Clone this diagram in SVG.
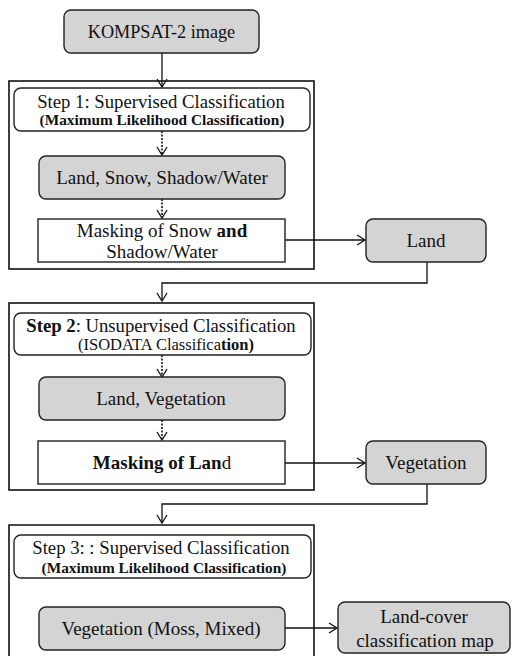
<svg xmlns="http://www.w3.org/2000/svg" width="512" height="656" viewBox="0 0 512 656">
<style>
text{fill:#111;text-anchor:middle}
.t{font-size:19px}
.h{font-size:18.7px}
.s{font-size:15.3px;font-weight:bold}
.b{font-weight:bold}
.gray{fill:#d4d4d4;stroke:#222;stroke-width:1.4}
.white{fill:#fff;stroke:#222;stroke-width:1.4}
.outer{fill:none;stroke:#111;stroke-width:1.6}
.line{fill:none;stroke:#111;stroke-width:1.3}
.dash{fill:none;stroke:#111;stroke-width:1.6;stroke-dasharray:2 1.5}
</style>
<defs>
<marker id="ah" markerUnits="userSpaceOnUse" markerWidth="12" markerHeight="14" refX="9" refY="6" orient="auto">
<path d="M1,1 L9,6 L1,11" fill="none" stroke="#111" stroke-width="1.3"/>
</marker>
</defs>
<g id="step1-frame"><rect class="outer" x="9" y="81" width="305" height="188"/></g>
<g id="step2-frame"><rect class="outer" x="9" y="303" width="305" height="187"/></g>
<g id="step3-frame"><path class="outer" d="M9,657 V525 H314 V657"/></g>
<g id="connectors">
<path class="line" d="M162,53 V87" marker-end="url(#ah)"/>
<path class="dash" d="M162,131 V155" marker-end="url(#ah)"/>
<path class="dash" d="M162,199 V218" marker-end="url(#ah)"/>
<path class="line" d="M285,240 H365" marker-end="url(#ah)"/>
<path class="line" d="M427,262 V283 H162 V301" marker-end="url(#ah)"/>
<path class="dash" d="M162,355 V377" marker-end="url(#ah)"/>
<path class="dash" d="M162,420 V440" marker-end="url(#ah)"/>
<path class="line" d="M285,463 H365" marker-end="url(#ah)"/>
<path class="line" d="M427,484 V504 H162 V523" marker-end="url(#ah)"/>
<path class="line" d="M285,628 H337" marker-end="url(#ah)"/>
</g>
<g font-family="'Liberation Serif', 'Times New Roman', Tinos, 'DejaVu Serif', serif">
<g id="kompsat"><rect class="gray" x="64" y="10" width="195" height="43" rx="7"/><text x="161.5" y="38" font-size="18.2">KOMPSAT-2 image</text></g>
<g id="step1-header"><rect class="white" x="14" y="88" width="296" height="43" rx="7"/><text class="h" x="161" y="108">Step 1: Supervised Classification</text><text class="s" x="162" y="125">(Maximum Likelihood Classification)</text></g>
<g id="classes1"><rect class="gray" x="39" y="156" width="246" height="43" rx="7"/><text class="t" x="162" y="184">Land, Snow, Shadow/Water</text></g>
<g id="mask1"><rect class="white" x="38" y="219" width="247" height="43"/><text class="t" x="162" y="237">Masking of Snow <tspan class="b">and</tspan></text><text class="t" x="162" y="258">Shadow/Water</text></g>
<g id="land"><rect class="gray" x="366" y="219" width="120" height="43" rx="7"/><text class="t" x="426" y="247">Land</text></g>
<g id="step2-header"><rect class="white" x="14" y="313" width="297" height="42" rx="7"/><text class="h" x="161" y="332"><tspan class="b">Step 2</tspan>: Unsupervised Classification</text><text x="166" y="350" font-size="16.5">(ISODATA  Classifica<tspan class="b">tion)</tspan></text></g>
<g id="classes2"><rect class="gray" x="39" y="377" width="246" height="43" rx="7"/><text class="t" x="161" y="405">Land, Vegetation</text></g>
<g id="mask2"><rect class="white" x="38" y="441" width="247" height="43"/><text class="t" x="162" y="469"><tspan class="b">Masking of Lan</tspan>d</text></g>
<g id="vegetation"><rect class="gray" x="366" y="441" width="120" height="43" rx="7"/><text class="t" x="426" y="469">Vegetation</text></g>
<g id="step3-header"><rect class="white" x="14" y="535" width="297" height="43" rx="7"/><text class="h" x="161" y="554">Step 3: : Supervised Classification</text><text class="s" x="164" y="573">(Maximum Likelihood Classification)</text></g>
<g id="classes3"><rect class="gray" x="39" y="607" width="246" height="43" rx="7"/><text class="t" x="161" y="635">Vegetation (Moss, Mixed)</text></g>
<g id="landcover"><rect class="gray" x="338" y="602" width="172" height="51" rx="7"/><text class="t" x="424" y="623">Land-cover</text><text class="t" x="425" y="647">classification map</text></g>
</g>
</svg>
